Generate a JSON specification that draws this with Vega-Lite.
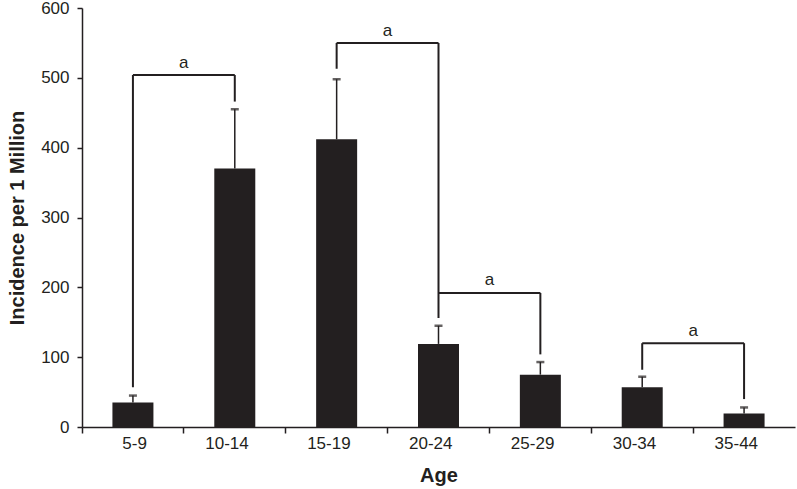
{
  "$schema": "https://vega.github.io/schema/vega-lite/v6.json",
  "width": 713,
  "height": 419,
  "autosize": "none",
  "padding": {"left": 82, "top": 8, "right": 2, "bottom": 62},
  "background": "white",
  "config": {
    "view": {"stroke": null},
    "font": "Liberation Sans",
    "axis": {"grid": false, "domainColor": "#231f20", "tickColor": "#231f20", "labelColor": "#231f20", "titleColor": "#231f20", "domainWidth": 1.5, "tickWidth": 1.5, "labelFont": "Liberation Sans", "titleFont": "Liberation Sans"}
  },
  "datasets": {
    "bars": [
      {"age": "5-9", "value": 35, "err": 45},
      {"age": "10-14", "value": 370, "err": 455},
      {"age": "15-19", "value": 412, "err": 498},
      {"age": "20-24", "value": 119, "err": 145},
      {"age": "25-29", "value": 75, "err": 93},
      {"age": "30-34", "value": 57, "err": 72},
      {"age": "35-44", "value": 19.5, "err": 28}
    ],
    "legs": [
      {"age": "5-9", "y1": 57, "y2": 504},
      {"age": "10-14", "y1": 466, "y2": 504},
      {"age": "15-19", "y1": 513, "y2": 550},
      {"age": "20-24", "y1": 156, "y2": 550},
      {"age": "25-29", "y1": 104, "y2": 192},
      {"age": "30-34", "y1": 82, "y2": 120},
      {"age": "35-44", "y1": 40, "y2": 120}
    ],
    "spans": [
      {"a": "5-9", "b": "10-14", "y": 504},
      {"a": "15-19", "b": "20-24", "y": 550},
      {"a": "20-24", "b": "25-29", "y": 192},
      {"a": "30-34", "b": "35-44", "y": 120}
    ],
    "labels": [
      {"pos": "10-14", "y": 521, "t": "a"},
      {"pos": "20-24", "y": 567, "t": "a"},
      {"pos": "25-29", "y": 210, "t": "a"},
      {"pos": "35-44", "y": 138, "t": "a"}
    ]
  },
  "layer": [
    {
      "data": {"name": "bars"},
      "mark": {"type": "rule", "color": "#231f20", "strokeWidth": 1.5},
      "encoding": {
        "x": {"field": "age", "type": "nominal"},
        "y": {"field": "value", "type": "quantitative"},
        "y2": {"field": "err"}
      }
    },
    {
      "data": {"name": "bars"},
      "mark": {"type": "tick", "color": "#231f20", "orient": "horizontal", "size": 8, "thickness": 2.5},
      "encoding": {
        "x": {"field": "age", "type": "nominal"},
        "y": {"field": "err", "type": "quantitative"}
      }
    },
    {
      "data": {"name": "bars"},
      "mark": {"type": "bar", "color": "#231f20", "size": 41},
      "encoding": {
        "x": {
          "field": "age", "type": "nominal", "sort": null,
          "scale": {"domain": ["5-9", "10-14", "15-19", "20-24", "25-29", "30-34", "35-44"], "paddingInner": 0, "paddingOuter": 0},
          "axis": {"title": "Age", "labelAngle": 0, "bandPosition": 0, "tickSize": 6, "labelFontSize": 17, "labelPadding": 10, "titleFontSize": 20, "titleFontWeight": "bold", "titlePadding": 14, "labelOffset": 14}
        },
        "y": {
          "field": "value", "type": "quantitative",
          "scale": {"domain": [0, 600], "nice": false},
          "axis": {"title": "Incidence per 1 Million", "values": [0, 100, 200, 300, 400, 500, 600], "tickSize": 5, "labelFontSize": 17, "labelPadding": 8, "titleFontSize": 20, "titleFontWeight": "bold", "titlePadding": 13}
        }
      }
    },
    {
      "data": {"name": "legs"},
      "mark": {"type": "rule", "color": "#231f20", "strokeWidth": 2},
      "encoding": {
        "x": {"field": "age", "type": "nominal"},
        "y": {"field": "y1", "type": "quantitative"},
        "y2": {"field": "y2"}
      }
    },
    {
      "data": {"name": "spans"},
      "mark": {"type": "rule", "color": "#231f20", "strokeWidth": 2},
      "encoding": {
        "x": {"field": "a", "type": "nominal"},
        "x2": {"field": "b"},
        "y": {"field": "y", "type": "quantitative"}
      }
    },
    {
      "data": {"name": "labels"},
      "mark": {"type": "text", "color": "#231f20", "fontSize": 17, "font": "Liberation Sans"},
      "encoding": {
        "x": {"field": "pos", "type": "nominal", "bandPosition": 0},
        "y": {"field": "y", "type": "quantitative"},
        "text": {"field": "t"}
      }
    }
  ]
}
